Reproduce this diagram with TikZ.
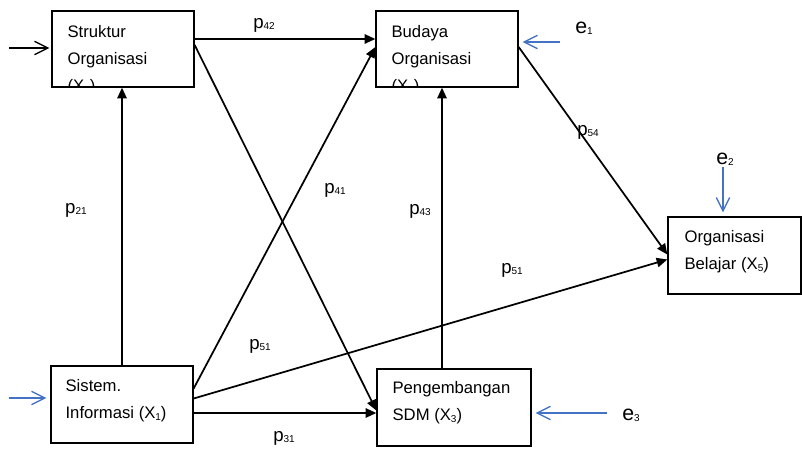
\documentclass[tikz,border=0pt]{standalone}
\usepackage{fontspec}
\setmainfont{Liberation Sans}
\usetikzlibrary{arrows.meta}
\definecolor{errblue}{HTML}{4472C4}
\newcommand{\sbs}[1]{\raisebox{-1pt}{\fontsize{7.5}{7.5}\selectfont #1}}

\begin{document}
\begin{tikzpicture}
    [
    x=0.75pt, y=-0.75pt,
    box/.style={draw,line width=1pt,rectangle,inner sep=0pt},
    boxtext/.style={anchor=north west,inner sep=0pt,align=left,font=\fontsize{12.5}{20.25}\selectfont},
    effect/.style={line width=1.3pt,-{Triangle[length=8pt,width=7pt]}},
    inarrow/.style={line width=1pt,-{Straight Barb[length=10pt,width=10pt]},shorten >=1.5pt},
    errarrow/.style={errblue,line width=1pt,-{Straight Barb[length=10pt,width=10pt]},shorten >=3pt},
    coef/.style={inner sep=0pt,font=\fontsize{14}{14}\selectfont},
    err/.style={inner sep=0pt,font=\fontsize{16}{16}\selectfont}
    ]
    \useasboundingbox (0,0) rectangle (802,449);
    \node (x2) at (123,49) [box,minimum width=106.5pt,minimum height=57pt] {};
    \node (x4) at (447,49) [box,minimum width=106.5pt,minimum height=57pt] {};
    \node (x1) at (122,404.5) [box,minimum width=106.5pt,minimum height=57.75pt] {};
    \node (x3) at (454,407.5) [box,minimum width=115.5pt,minimum height=57.75pt] {};
    \node (x5) at (734.5,255.5) [box,minimum width=99.75pt,minimum height=57.75pt] {};
    \begin{scope}
      \clip (x2.south west) rectangle (x2.north east);
      \node (x2txt) at ([shift={(16,15)}]x2.north west) [boxtext] {Struktur\\Organisasi\\(X\sbs{2})};
    \end{scope}
    \begin{scope}
      \clip (x4.south west) rectangle (x4.north east);
      \node (x4txt) at ([shift={(16,15)}]x4.north west) [boxtext] {Budaya\\Organisasi\\(X\sbs{4})};
    \end{scope}
    \node (x1txt) at ([shift={(15,14)}]x1.north west) [boxtext] {Sistem.\\Informasi (X\sbs{1})};
    \node (x3txt) at ([shift={(16,13)}]x3.north west) [boxtext] {Pengembangan\\SDM (X\sbs{3})};
    \node (x5txt) at ([shift={(17,14)}]x5.north west) [boxtext] {Organisasi\\Belajar (X\sbs{5})};
    \coordinate (p31s) at ([shift={(0,8.5)}]x1.east);
    \coordinate (p43s) at ([shift={(-12,0)}]x3.north);
    \draw [effect] (x1.north) -- (x1.north |- x2.south);
    \draw [effect] ([shift={(0,-10)}]x2.east) -- ([shift={(0,-10)}]x4.west);
    \draw [effect] ([shift={(0,-4)}]x2.east) -- ([shift={(0,3)}]x3.west);
    \draw [effect] ([shift={(0,-16)}]x1.east) -- ([shift={(0,-2)}]x4.west);
    \draw [effect] ([shift={(0,-6)}]x1.east) -- ([shift={(0,4)}]x5.west);
    \draw [effect] (p31s) -- (p31s -| x3.west);
    \draw [effect] (p43s) -- (p43s |- x4.south);
    \draw [effect] ([shift={(0,-2)}]x4.east) -- ([shift={(0,-1)}]x5.west);
    \coordinate (in2) at (9,48);
    \coordinate (in1) at (9,398);
    \coordinate (in4) at (560,42);
    \coordinate (in5) at (723,167);
    \coordinate (in3) at (607,413);
    \draw [inarrow] (in2) -- (in2 -| x2.west);
    \draw [errarrow] (in1) -- (in1 -| x1.west);
    \draw [errarrow] (in4) -- (in4 -| x4.east);
    \draw [errarrow] (in5) -- (in5 |- x5.north);
    \draw [errarrow] (in3) -- (in3 -| x3.east);
    \node (e1) at (584,28) [err] {e\sbs{1}};
    \node (e2) at (725,159) [err] {e\sbs{2}};
    \node (e3) at (631,415) [err] {e\sbs{3}};
    \node (p42) at (264,25) [coef] {p\sbs{42}};
    \node (p21) at (76,210) [coef] {p\sbs{21}};
    \node (p41) at (335,190) [coef] {p\sbs{41}};
    \node (p51a) at (260,346) [coef] {p\sbs{51}};
    \node (p31) at (284,438) [coef] {p\sbs{31}};
    \node (p43) at (420,211) [coef] {p\sbs{43}};
    \node (p51b) at (512,270) [coef] {p\sbs{51}};
    \node (p54) at (588,132) [coef] {p\sbs{54}};
  \end{tikzpicture}
\end{document}
